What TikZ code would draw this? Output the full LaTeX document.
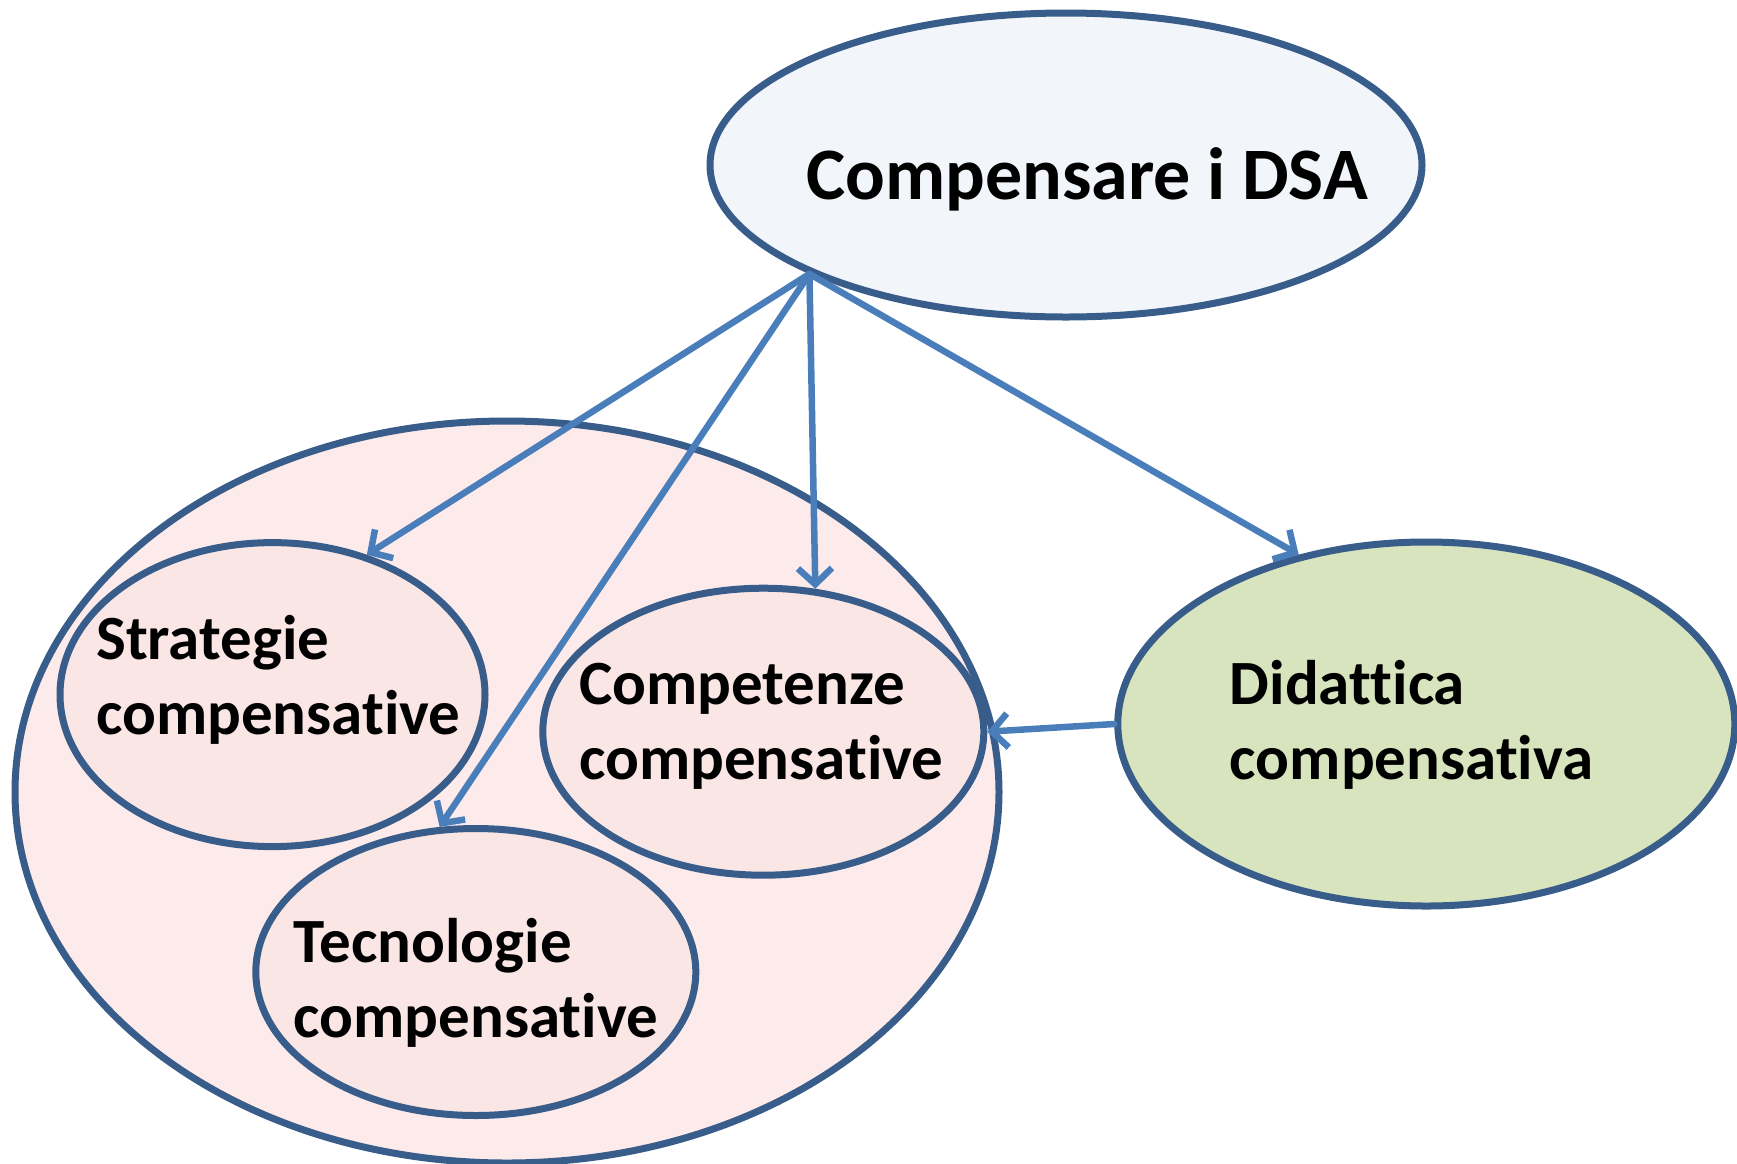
\documentclass[tikz,border=0pt]{standalone}
\usepackage{fontspec}
\setmainfont{Carlito}[Ligatures={NoCommon}]
\usetikzlibrary{arrows.meta,shapes.geometric}

\definecolor{rimblue}{RGB}{56,93,138}
\definecolor{arrowblue}{RGB}{74,126,187}
\definecolor{dsafill}{RGB}{242,245,250}
\definecolor{outerfill}{RGB}{253,235,235}
\definecolor{innerfill}{RGB}{249,230,229}
\definecolor{greenfill}{RGB}{215,228,189}

\begin{document}
\begin{tikzpicture}[x=1pt,y=-1pt]
\tikzstyle{bubble}=[ellipse,draw=rimblue,line width=7pt,inner sep=0pt]
\tikzstyle{lbl}=[font=\fontsize{63}{75}\selectfont\bfseries,align=left,inner sep=0pt,anchor=base west]
\tikzstyle{link}=[draw=arrowblue,line width=6.5pt,line cap=round,-{Straight Barb[length=16pt,width=34pt]}]

\useasboundingbox (0,0) rectangle (1737,1163);

%% ========== GROUP OF COMPENSATIVE TOOLS ==========
\node[bubble,fill=outerfill,minimum width=984,minimum height=742] (group) at (507,792) {};

\node[bubble,fill=innerfill,minimum width=425,minimum height=304] (strat) at (272.5,694.6) {};
\node[bubble,fill=innerfill,minimum width=441,minimum height=287] (comp) at (763.3,731.7) {};
\node[bubble,fill=innerfill,minimum width=440,minimum height=287] (tecn) at (475.8,972) {};

%% ========== MAIN IDEA AND DIDACTICS ==========
\node[bubble,fill=dsafill,minimum width=712,minimum height=304] (dsa) at (1066,165) {};
\node[bubble,fill=greenfill,minimum width=617,minimum height=364] (did) at (1426.3,724) {};

%% ========== LABELS ==========
% base anchor sits on the last line
\node[lbl,font=\fontsize{74}{88}\selectfont\bfseries] (t-dsa) at (806,199) {Compensare i DSA};
\node[lbl] (t-strat) at (96,734) {Strategie\\compensative};
\node[lbl] (t-comp) at (579,779) {Competenze\\compensative};
\node[lbl] (t-tecn) at (293.6,1037) {Tecnologie\\compensative};
\node[lbl] (t-did) at (1229.7,779) {Didattica\\compensativa};

%% ========== CONNECTIONS ==========
\coordinate (dsa-out) at (dsa.203);
\draw[link] (dsa-out) -- (strat.56);
\draw[link] (dsa-out) -- (comp.70);
\draw[link] (dsa-out) -- (tecn.104);
\draw[link] (dsa-out) -- (did.127);
\draw[link] (did.west) -- (comp.east);

\end{tikzpicture}
\end{document}
